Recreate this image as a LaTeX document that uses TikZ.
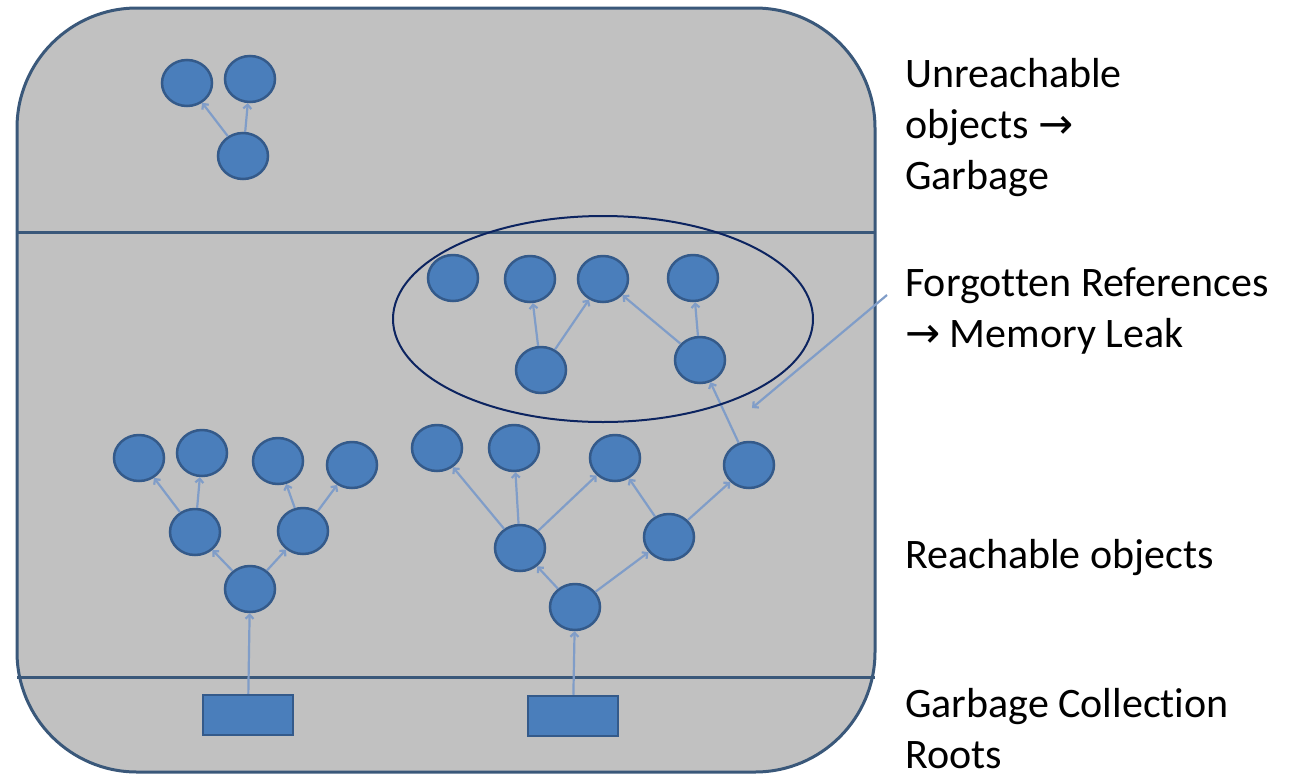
\documentclass[tikz,border=0pt]{standalone}
\usepackage{fontspec}
\setmainfont{Carlito}[Ligatures=NoCommon]
\newfontfamily\arrowfont{DejaVu Sans}
\usetikzlibrary{shapes.geometric,arrows.meta}

\definecolor{heapgray}{RGB}{193,193,193}
\definecolor{heapline}{RGB}{58,88,122}
\definecolor{objfill}{RGB}{74,126,187}
\definecolor{objline}{RGB}{52,90,138}
\definecolor{reflink}{RGB}{128,157,200}
\definecolor{leakline}{RGB}{12,36,96}

\begin{document}
\begin{tikzpicture}[x=1pt,y=-1pt,>={Straight Barb[length=4pt,width=8pt]}]
        \tikzstyle{obj} = [ellipse, fill=objfill, draw=objline, line width=2.5pt,
                minimum width=50pt, minimum height=46pt, inner sep=0pt]
        \tikzstyle{root} = [rectangle, fill=objfill, draw=objline, line width=2.5pt,
                minimum width=90pt, minimum height=40pt, inner sep=0pt]
        \tikzstyle{ref} = [draw=reflink, line width=2.2pt]
        \tikzstyle{lbl} = [anchor=base west, align=left, inner sep=0pt,
                font=\fontsize{42}{51}\selectfont]
        \useasboundingbox (0,0) rectangle (1299,777);
        % heap
        \draw[fill=heapgray, draw=heapline, line width=3pt, rounded corners=120pt]
                (17,8) rectangle (875,772);
        \draw[draw=heapline, line width=3pt] (17,232) -- (875,232);
        \draw[draw=heapline, line width=3pt] (17,677) -- (875,677);
        % unreachable
        \node[obj] (u1) at (187,83) {};
        \node[obj] (u2) at (250,79) {};
        \node[obj] (u3) at (243,156) {};
        % forgotten
        \node[obj] (f1) at (453,278) {};
        \node[obj] (f2) at (530,279) {};
        \node[obj] (f3) at (603,279) {};
        \node[obj] (f4) at (693,278) {};
        \node[obj] (f5) at (541,370) {};
        \node[obj] (f6) at (700,360) {};
        % reachable, left tree
        \node[obj] (a1) at (139,458) {};
        \node[obj] (a2) at (202,453) {};
        \node[obj] (a3) at (278,461) {};
        \node[obj] (a4) at (352,465) {};
        \node[obj] (a5) at (195,532) {};
        \node[obj] (a6) at (303,531) {};
        \node[obj] (a7) at (250,589) {};
        % reachable, right tree
        \node[obj] (b1) at (437,448) {};
        \node[obj] (b2) at (514,448) {};
        \node[obj] (b3) at (615,458) {};
        \node[obj] (b4) at (749,465) {};
        \node[obj] (b5) at (520,548) {};
        \node[obj] (b6) at (669,537) {};
        \node[obj] (b7) at (575,607) {};
        % roots
        \node[root] (ra) at (248,715) {};
        \node[root] (rb) at (573,716) {};
        \foreach \from/\to in {u3/u1, u3/u2,
                f5/f2, f5/f3, f6/f3, f6/f4,
                a7/a5, a7/a6, a5/a1, a5/a2, a6/a3, a6/a4, ra/a7,
                b7/b5, b7/b6, b5/b1, b5/b2, b5/b3, b6/b3, b6/b4, b4/f6, rb/b7}
            \draw[ref,->] (\from) -- (\to);
        \node[ellipse, draw=leakline, line width=2pt, minimum width=420pt,
                minimum height=206pt] (leak) at (603,319) {};
        \coordinate (ptr) at (887,295);
        \coordinate (tip) at (752,408);
        \draw[ref,->] (ptr) -- (tip);
        % labels
        \node[lbl] (tunreach) at (905,189) {Unreachable\\objects {\arrowfont →}\\Garbage};
        \node[lbl] (tforgot) at (905,347) {Forgotten References\\{\arrowfont →} Memory Leak};
        \node[lbl] (treach) at (905,568) {Reachable objects};
        \node[lbl] (troots) at (905,768) {Garbage Collection\\Roots};
    \end{tikzpicture}
\end{document}
